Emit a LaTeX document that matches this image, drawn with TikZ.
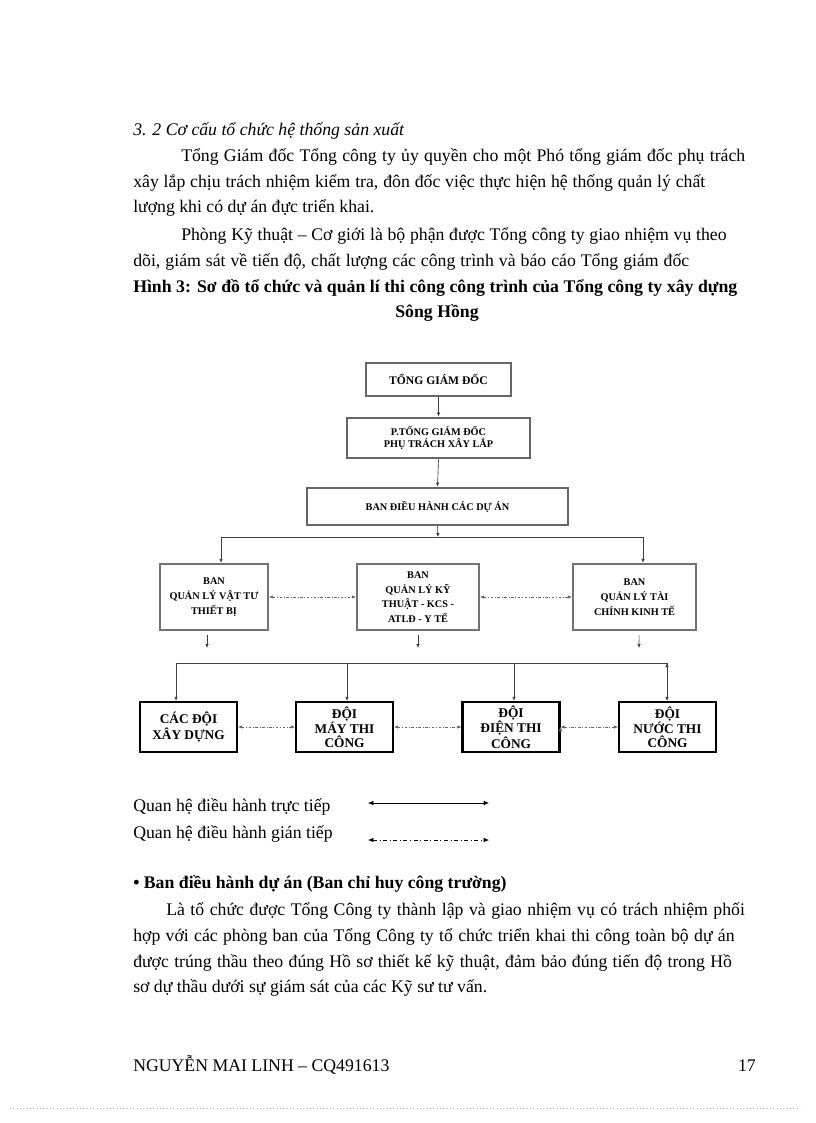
\documentclass[tikz,border=0pt]{standalone}
\usepackage{fontspec}
\setmainfont{Liberation Serif}
\usepackage{tikz}
\usetikzlibrary{calc,positioning,arrows,arrows.meta}
\tikzset{
	txt/.style={anchor=base west,inner sep=0pt,font=\fontsize{13.3}{15}\selectfont},
	hdbox/.style={draw=black!60,line width=2.1pt,fill=white,inner sep=0pt,align=center,font=\bfseries\fontsize{7.7}{9.5}\selectfont},
	banbox/.style={draw=black!55,line width=1.6pt,fill=white,inner sep=0pt,align=center,font=\bfseries\fontsize{7.7}{11}\selectfont,minimum height=49.5pt},
	doibox/.style={draw=black,line width=1.6pt,fill=white,inner sep=0pt,align=center,font=\bfseries\fontsize{10}{10.5}\selectfont,minimum width=72.75pt,minimum height=37.5pt},
	wire/.style={draw=black!75,line width=0.5pt},
	link/.style={wire,-{Latex[length=3pt,width=2.6pt]}},
	relink/.style={draw=black!60,line width=0.5pt,dash pattern=on 2pt off 1.3pt on 0.5pt off 1.3pt,{Latex[length=3pt,width=2.6pt]}-{Latex[length=3pt,width=2.6pt]}},
}
\begin{document}
\begin{tikzpicture}[x=0.75pt,y=-0.75pt]
	\fill[white] (0,0) rectangle (816,1123);
	\useasboundingbox (0,0) rectangle (816,1123);
	\node(t1) [txt] at (133,136) {\itshape 3. 2 Cơ cấu tổ chức hệ thống sản xuất};
	\node(t2) [txt] at (181,162) {\makebox[423pt][s]{Tổng Giám đốc Tổng công ty ủy quyền cho một Phó tổng giám đốc phụ trách}};
	\node(t3) [txt] at (133,188) {\makebox[429pt][s]{xây lắp chịu trách nhiệm kiểm tra, đôn đốc việc thực hiện hệ thống quản lý chất}};
	\node(t4) [txt] at (133,213) {lượng khi có dự án đực triển khai.};
	\node(t5) [txt] at (181,240) {\makebox[409pt][s]{Phòng Kỹ thuật – Cơ giới là bộ phận được Tổng công ty giao nhiệm vụ theo}};
	\node(t6) [txt] at (133,266) {\makebox[417pt][s]{dõi, giám sát về tiến độ, chất lượng các công trình và báo cáo Tổng giám đốc}};
	\node(t7) [txt] at (133,292) {\bfseries\makebox[453pt][s]{Hình 3: Sơ đồ tổ chức và quản lí thi công công trình của Tổng công ty xây dựng}};
	\node(t8) [txt,anchor=base] at (437,317) {\bfseries Sông Hồng};
	\node(1) [hdbox,minimum width=108.75pt,minimum height=24.75pt,font=\bfseries\fontsize{8.7}{9}\selectfont] at (438.5,379.5) {TỔNG GIÁM ĐỐC};
	\node(2) [hdbox,minimum width=137.25pt,minimum height=30pt] at (438.5,438) {P.TỔNG GIÁM ĐỐC\\PHỤ TRÁCH XÂY LẮP};
	\node(3) [hdbox,minimum width=195.75pt,minimum height=27.75pt] at (437.5,506.5) {BAN ĐIỀU HÀNH CÁC DỰ ÁN};
	\node(4) [banbox,minimum width=81pt] at (214,597) {BAN\\QUẢN LÝ VẬT TƯ\\THIẾT BỊ};
	\node(5) [banbox,minimum width=91.5pt] at (418,597) {BAN\\QUẢN LÝ KỸ\\THUẬT - KCS -\\ATLĐ - Y TẾ};
	\node(6) [banbox,minimum width=92.25pt] at (634.5,597) {BAN\\QUẢN LÝ TÀI\\CHÍNH KINH TẾ};
	\node(7) [doibox] at (188.5,727) {CÁC ĐỘI\\XÂY DỰNG};
	\node(8) [doibox] at (344.5,727) {ĐỘI\\MÁY THI\\CÔNG};
	\node(9) [doibox] at (511,727) {ĐỘI\\ĐIỆN THI\\CÔNG};
	\node(10) [doibox] at (667.5,727) {ĐỘI\\NƯỚC THI\\CÔNG};
	\coordinate (b0) at (438,537);
	\coordinate (b1) at (221,537);
	\coordinate (b2) at (643,537);
	\coordinate (s4) at (207,648);
	\coordinate (s5) at (418,648);
	\coordinate (s6) at (639,648);
	\coordinate (d1) at (176,663);
	\coordinate (d2) at (347,663);
	\coordinate (d3) at (514,663);
	\coordinate (d4) at (667,663);
	\path[link]
		(1.south) edge (2.north)
		(2.south) edge (3.north)
		(3.south) edge (b0)
		(b1) edge (b1 |- 4.north)
		(b2) edge (b2 |- 6.north)
		([xshift=-5.25pt]4.south) edge[shorten <=3pt] (s4)
		(5.south) edge[shorten <=3pt] (s5)
		([xshift=3.5pt]6.south) edge[shorten <=3pt] (s6)
		(d1) edge (d1 |- 7.north)
		(d2) edge (d2 |- 8.north)
		(d3) edge (d3 |- 9.north)
		(d4) edge (d4 |- 10.north);
	\draw[wire] (b1) -- (b2);
	\draw[wire] (d1) -- (d4);
	\path[relink]
		(4.east) edge (5.west)
		(5.east) edge (6.west)
		(7.east) edge (8.west)
		(8.east) edge (9.west)
		(9.east) edge (10.west);
	\node(l1) [txt] at (133,811) {Quan hệ điều hành trực tiếp};
	\node(l2) [txt] at (133,838) {Quan hệ điều hành gián tiếp};
	\coordinate (k1) at (368,803);
	\coordinate (k2) at (489,803);
	\coordinate (k3) at (368,840);
	\coordinate (k4) at (489,840);
	\draw[wire,{Latex[length=4pt,width=3.5pt]}-{Latex[length=4pt,width=3.5pt]},draw=black] (k1) -- (k2);
	\draw[draw=black,line width=0.5pt,dash pattern=on 3pt off 2pt on 0.6pt off 2pt,{Latex[length=4pt,width=3.5pt]}-{Latex[length=4pt,width=3.5pt]}] (k3) -- (k4);
	\node(p1) [txt] at (133,888) {\bfseries • Ban điều hành dự án (Ban chỉ huy công trường)};
	\node(p2) [txt] at (166,915) {\makebox[434pt][s]{Là tổ chức được Tổng Công ty thành lập và giao nhiệm vụ có trách nhiệm phối}};
	\node(p3) [txt] at (133,941) {\makebox[451pt][s]{hợp với các phòng ban của Tổng Công ty tổ chức triển khai thi công toàn bộ dự án}};
	\node(p4) [txt] at (133,967) {\makebox[449pt][s]{được trúng thầu theo đúng Hồ sơ thiết kế kỹ thuật, đảm bảo đúng tiến độ trong Hồ}};
	\node(p5) [txt] at (133,992) {sơ dự thầu dưới sự giám sát của các Kỹ sư tư vấn.};
	\node(f1) [txt] at (133,1071) {NGUYỄN MAI LINH – CQ491613};
	\node(f2) [txt,anchor=base east] at (756,1071) {17};
	\draw[black!30,line width=0.5pt,dotted] (10,1108) -- (800,1108);
\end{tikzpicture}
\end{document}
